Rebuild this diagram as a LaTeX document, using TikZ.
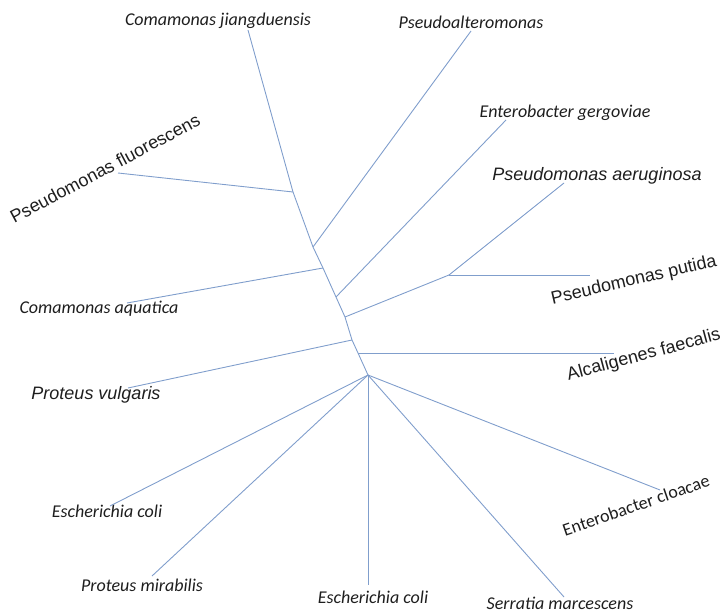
\documentclass[tikz,border=0pt]{standalone}
\usepackage{fontspec}
\usepackage{tikz}
\usetikzlibrary{positioning}
\newfontfamily\calfont{Carlito}
\newfontfamily\arifont{Liberation Sans}
\definecolor{branchblue}{RGB}{128,158,204}
\definecolor{labelgray}{RGB}{30,30,30}

\begin{document}
\begin{tikzpicture}[x=1pt, y=-1pt,
        br/.style={draw=branchblue, line width=0.9pt, line join=round},
        clab/.style={anchor=base, inner sep=0pt, text=labelgray,
                     font=\calfont\itshape\fontsize{18}{20}\selectfont},
        cup/.style={anchor=base, inner sep=0pt, text=labelgray,
                    font=\calfont\fontsize{18}{20}\selectfont},
        alab/.style={anchor=base, inner sep=0pt, text=labelgray,
                     font=\arifont\fontsize{18}{20}\selectfont},
        aita/.style={anchor=base, inner sep=0pt, text=labelgray,
                     font=\arifont\itshape\fontsize{18}{20}\selectfont}
    ]
    \useasboundingbox (0,0) rectangle (722,612);
    % internal nodes
    \coordinate (s1) at (293,192);
    \coordinate (s2) at (313,247);
    \coordinate (s3) at (323,268);
    \coordinate (s4) at (336,297);
    \coordinate (s5) at (345,317);
    \coordinate (s6) at (352,340);
    \coordinate (s7) at (358,353);
    \coordinate (root) at (368,375);
    \coordinate (pp) at (449,275);
    % leaf tips
    \coordinate (jiang) at (248,30);
    \coordinate (fluor) at (118,173);
    \coordinate (alter) at (471,31);
    \coordinate (aquat) at (127,303);
    \coordinate (gergo) at (506,120);
    \coordinate (aerug) at (564,183);
    \coordinate (putid) at (590,275);
    \coordinate (vulga) at (128,388);
    \coordinate (faeca) at (614,353);
    \coordinate (ecolA) at (110,506);
    \coordinate (mirab) at (152,576);
    \coordinate (ecolB) at (368,585);
    \coordinate (serra) at (564,597);
    \coordinate (cloac) at (660,490);
    % labels
    \node[clab] (Ljiang) at (218,26) {Comamonas jiangduensis};
    \node[clab] (Lalter) at (471,29) {Pseudoalteromonas};
    \node[clab] (Lgergo) at (565,118) {Enterobacter gergoviae};
    \node[aita] (Laerug) at (597,181) {Pseudomonas aeruginosa};
    \node[alab, rotate=28] (Lfluor) at (108,174) {Pseudomonas fluorescens};
    \node[alab, rotate=13] (Lputid) at (635,285) {Pseudomonas putida};
    \node[alab, rotate=15] (Lfaeca) at (645,360) {Alcaligenes faecalis};
    \node[clab] (Laquat) at (99,313) {Comamonas aquatica};
    \node[aita] (Lvulga) at (96,399) {Proteus vulgaris};
    \node[clab] (LecolA) at (107,517) {Escherichia coli};
    \node[clab] (Lmirab) at (142,591) {Proteus mirabilis};
    \node[clab] (LecolB) at (373,603) {Escherichia coli};
    \node[clab] (Lserra) at (560,609) {Serratia marcescens};
    \node[cup, rotate=19] (Lcloac) at (638,511) {Enterobacter cloacae};
    % spine
    \draw[br] (jiang) -- (s1) -- (s2) -- (s3) -- (s4) -- (s5) -- (s6) -- (s7) -- (root);
    \draw[br] (s1) -- (fluor);
    \draw[br] (s2) -- (alter);
    \draw[br] (s3) -- (aquat);
    \draw[br] (s4) -- (gergo);
    \draw[br] (s5) -- (pp);
    \draw[br] (pp) -- (aerug);
    \draw[br] (pp) -- (putid);
    \draw[br] (s6) -- (vulga);
    \draw[br] (s7) -- (faeca);
    \foreach \leaf in {ecolA,mirab,ecolB,serra,cloac}
      \draw[br] (root) -- (\leaf);
\end{tikzpicture}
\end{document}
